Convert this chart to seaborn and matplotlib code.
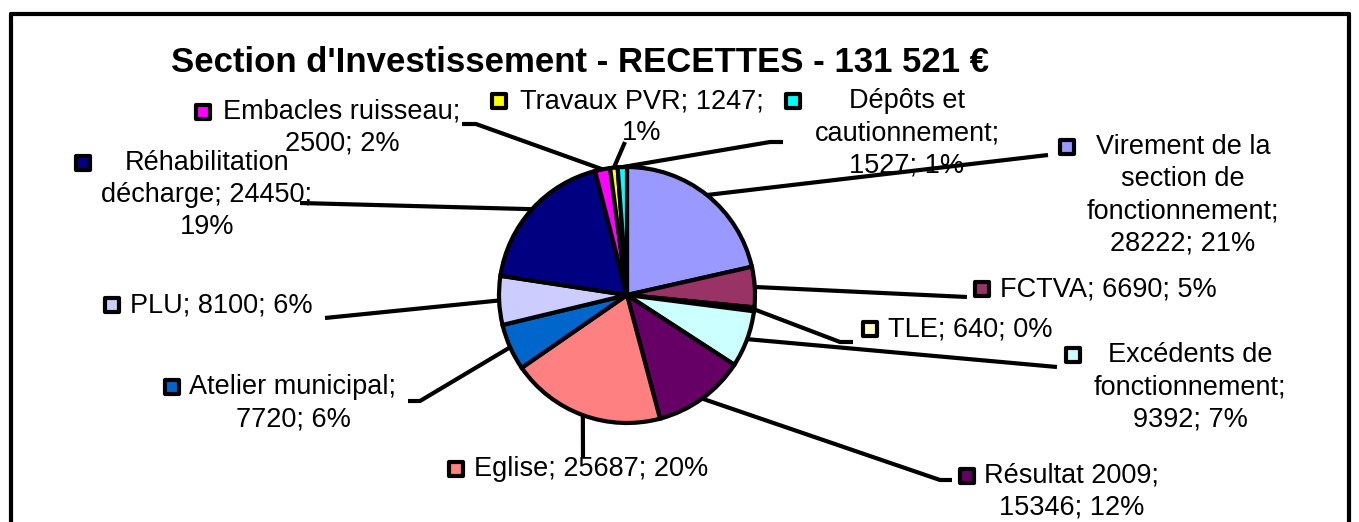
import numpy as np
import matplotlib
matplotlib.use("Agg")
import matplotlib.pyplot as plt
import seaborn as sns
from matplotlib.lines import Line2D

# data (clockwise from 12 o'clock)
categories = ["Virement de la section de fonctionnement", "FCTVA", "TLE",
              "Excédents de fonctionnement", "Résultat 2009", "Eglise",
              "Atelier municipal", "PLU", "Réhabilitation décharge",
              "Embacles ruisseau", "Travaux PVR", "Dépôts et cautionnement"]
values = [28222, 6690, 640, 9392, 15346, 25687, 7720, 8100, 24450, 2500, 1247, 1527]
colors = ["#9999FF", "#993366", "#FFFFCC", "#CCFFFF", "#660066", "#FF8080",
          "#0066CC", "#CCCCFF", "#000080", "#FF00FF", "#FFFF00", "#00FFFF"]
title = "Section d'Investissement - RECETTES - 131 521 €"

# layout (pixel coords, y down): words per line, text centre x, first line y,
# marker x, leader line points from the label side
layout = {
    "Virement de la section de fonctionnement": dict(words=[3, 2, 1, 2], cx=1183, y=147, mx=1067, lead=[(1048, 155)]),
    "FCTVA": dict(words=[3], cx=None, lx=1000, y=289, mx=982, lead=[(967, 297)]),
    "TLE": dict(words=[3], cx=None, lx=888, y=329, mx=870, lead=[(853, 342), (840, 342)]),
    "Excédents de fonctionnement": dict(words=[2, 1, 2], cx=1190, y=355, mx=1073, lead=[(1057, 367)]),
    "Résultat 2009": dict(words=[2, 2], cx=1072, y=476, mx=967, lead=[(952, 480), (940, 480)]),
    "Eglise": dict(words=[3], cx=None, lx=474, y=469, mx=456, lead=[(583, 458)]),
    "Atelier municipal": dict(words=[2, 2], cx=293, y=387, mx=172, lead=[(408, 401), (420, 401)]),
    "PLU": dict(words=[3], cx=None, lx=130, y=305, mx=112, lead=[(325, 318)]),
    "Réhabilitation décharge": dict(words=[1, 2, 1], cx=207, y=163, mx=83, lead=[(300, 203)]),
    "Embacles ruisseau": dict(words=[2, 2], cx=342, y=112, mx=203, lead=[(462, 124), (476, 124)]),
    "Travaux PVR": dict(words=[3, 1], cx=642, y=101, mx=499, lead=[(625, 142)]),
    "Dépôts et cautionnement": dict(words=[2, 1, 2], cx=907, y=101, mx=793, lead=[(783, 142), (770, 142)]),
}

W, H = 1359, 522
CX, CY, R = 627, 295, 128
LINE_H = 32
FS = 19.5

sns.set_theme(style="white")
plt.rcParams["font.family"] = ["Liberation Sans", "DejaVu Sans"]

fig = plt.figure(figsize=(W / 100, H / 100), dpi=100)
ax = fig.add_axes([0, 0, 1, 1])

wedges, _ = ax.pie(values, colors=colors, startangle=90, counterclock=False,
                   center=(CX, H - CY), radius=R,
                   wedgeprops=dict(edgecolor="black", linewidth=3))
ax.set_xlim(0, W)
ax.set_ylim(0, H)
ax.set_aspect("equal")
ax.axis("off")

total = sum(values)
for w, name, val, col in zip(wedges, categories, values, colors):
    lay = layout[name]
    pct = round(val / total * 100)
    words = f"{name}; {val}; {pct}%".split(" ")
    lines, i = [], 0
    for n in lay["words"]:
        lines.append(" ".join(words[i:i + n]))
        i += n
    for k, line in enumerate(lines):
        y = H - (lay["y"] + k * LINE_H)
        if lay.get("cx") is not None:
            ax.text(lay["cx"], y, line, ha="center", va="center", fontsize=FS, color="black")
        else:
            ax.text(lay["lx"], y, line, ha="left", va="center", fontsize=FS, color="black")
    ax.scatter([lay["mx"]], [H - lay["y"]], marker="s", s=115, color=col,
               edgecolor="black", linewidth=3, zorder=5)
    # leader line to wedge edge at mid angle
    mid = np.deg2rad((w.theta1 + w.theta2) / 2)
    ax_pt = (CX + R * np.cos(mid), H - CY + R * np.sin(mid))
    pts = [(x, H - y) for x, y in lay["lead"]] + [ax_pt]
    xs, ys = zip(*pts)
    ax.plot(xs, ys, color="black", linewidth=3, solid_capstyle="butt")

ax.text(580, H - 62, title, ha="center", va="center", fontsize=25,
        fontweight="bold", color="black")

# outer frame (left, top, right; bottom runs off the image)
for xs, ys in [((11, 11), (14, 522)), ((11, 1349), (14, 14)), ((1349, 1349), (14, 522))]:
    fig.add_artist(Line2D([x / W for x in xs], [1 - y / H for y in ys],
                          color="black", linewidth=3))

fig.savefig("out.png", dpi=100)
